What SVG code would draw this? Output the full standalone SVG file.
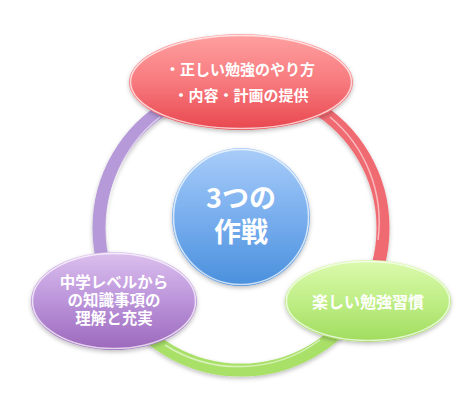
<svg xmlns="http://www.w3.org/2000/svg" width="473" height="405" viewBox="0 0 473 405">
  <defs>
    <linearGradient id="gRed" x1="0" y1="0" x2="0" y2="1">
      <stop offset="0" stop-color="#ffa0a0"/>
      <stop offset="0.5" stop-color="#f77a7e"/>
      <stop offset="1" stop-color="#e8474e"/>
    </linearGradient>
    <linearGradient id="gBlue" x1="0" y1="0" x2="0" y2="1">
      <stop offset="0" stop-color="#a9cdf9"/>
      <stop offset="0.5" stop-color="#78aeee"/>
      <stop offset="1" stop-color="#4a90dc"/>
    </linearGradient>
    <linearGradient id="gPurple" x1="0" y1="0" x2="0" y2="1">
      <stop offset="0" stop-color="#dcc0ee"/>
      <stop offset="0.5" stop-color="#bb94da"/>
      <stop offset="1" stop-color="#9c68bc"/>
    </linearGradient>
    <linearGradient id="gGreen" x1="0" y1="0" x2="0" y2="1">
      <stop offset="0" stop-color="#dcfaae"/>
      <stop offset="0.5" stop-color="#bfee86"/>
      <stop offset="1" stop-color="#a0dc5e"/>
    </linearGradient>
    <filter id="sh" x="-20%" y="-20%" width="140%" height="150%">
      <feDropShadow dx="0" dy="2" stdDeviation="2" flood-color="#000" flood-opacity="0.25"/>
    </filter>
  </defs>
  <style>
    .ring { fill: none; stroke-width: 13; stroke-linecap: butt; filter: url(#sh); }
    .hl { fill: none; stroke: #ffffff; stroke-opacity: 0.55; stroke-width: 1.5; }
    .node { filter: url(#sh); }
    .rim { fill: none; stroke: #ffffff; stroke-opacity: 0.7; stroke-width: 1.5; }
    .t { fill: #ffffff; font-family: "Noto Sans CJK JP", "Noto Sans", sans-serif; font-weight: bold; text-anchor: middle; }
  </style>
  <g id="connectors">
    <path class="ring" stroke="#f06a72" d="M241,86 A142,142 0 0 1 364,299"/>
    <path class="ring" stroke="#a9e068" d="M364,299 A142,142 0 0 1 118,299"/>
    <path class="ring" stroke="#b699d8" d="M118,299 A142,142 0 0 1 241,86"/>
    <path class="hl" d="M330,117 A137,137 0 0 1 378,240"/>
    <path class="hl" d="M320,340 A137,137 0 0 1 165,345"/>
    <path class="hl" d="M108,240 A137,137 0 0 1 160,117"/>
  </g>
  <g id="center">
    <circle class="node" cx="241" cy="217" r="69" fill="url(#gBlue)"/>
    <circle class="rim" cx="241" cy="217" r="67.5"/>
    <text class="t" font-size="27"><tspan x="241" y="208">3つの</tspan><tspan x="241" y="242">作戦</tspan></text>
  </g>
  <g id="node-top">
    <ellipse class="node" cx="241" cy="82" rx="112" ry="48" fill="url(#gRed)"/>
    <ellipse class="rim" cx="241" cy="82" rx="110.5" ry="46.5"/>
    <text class="t" font-size="15"><tspan x="240" y="75">・正しい勉強のやり方</tspan><tspan x="241" y="101">・内容・計画の提供</tspan></text>
  </g>
  <g id="node-right">
    <ellipse class="node" cx="368" cy="301" rx="83" ry="41" fill="url(#gGreen)"/>
    <ellipse class="rim" cx="368" cy="301" rx="81.5" ry="39.5"/>
    <text class="t" x="368" y="308" font-size="16">楽しい勉強習慣</text>
  </g>
  <g id="node-left">
    <ellipse class="node" cx="114" cy="301" rx="83" ry="49" fill="url(#gPurple)"/>
    <ellipse class="rim" cx="114" cy="301" rx="81.5" ry="47.5"/>
    <text class="t" font-size="15.5"><tspan x="114" y="288">中学レベルから</tspan><tspan x="114" y="306">の知識事項の</tspan><tspan x="114" y="324">理解と充実</tspan></text>
  </g>
</svg>
